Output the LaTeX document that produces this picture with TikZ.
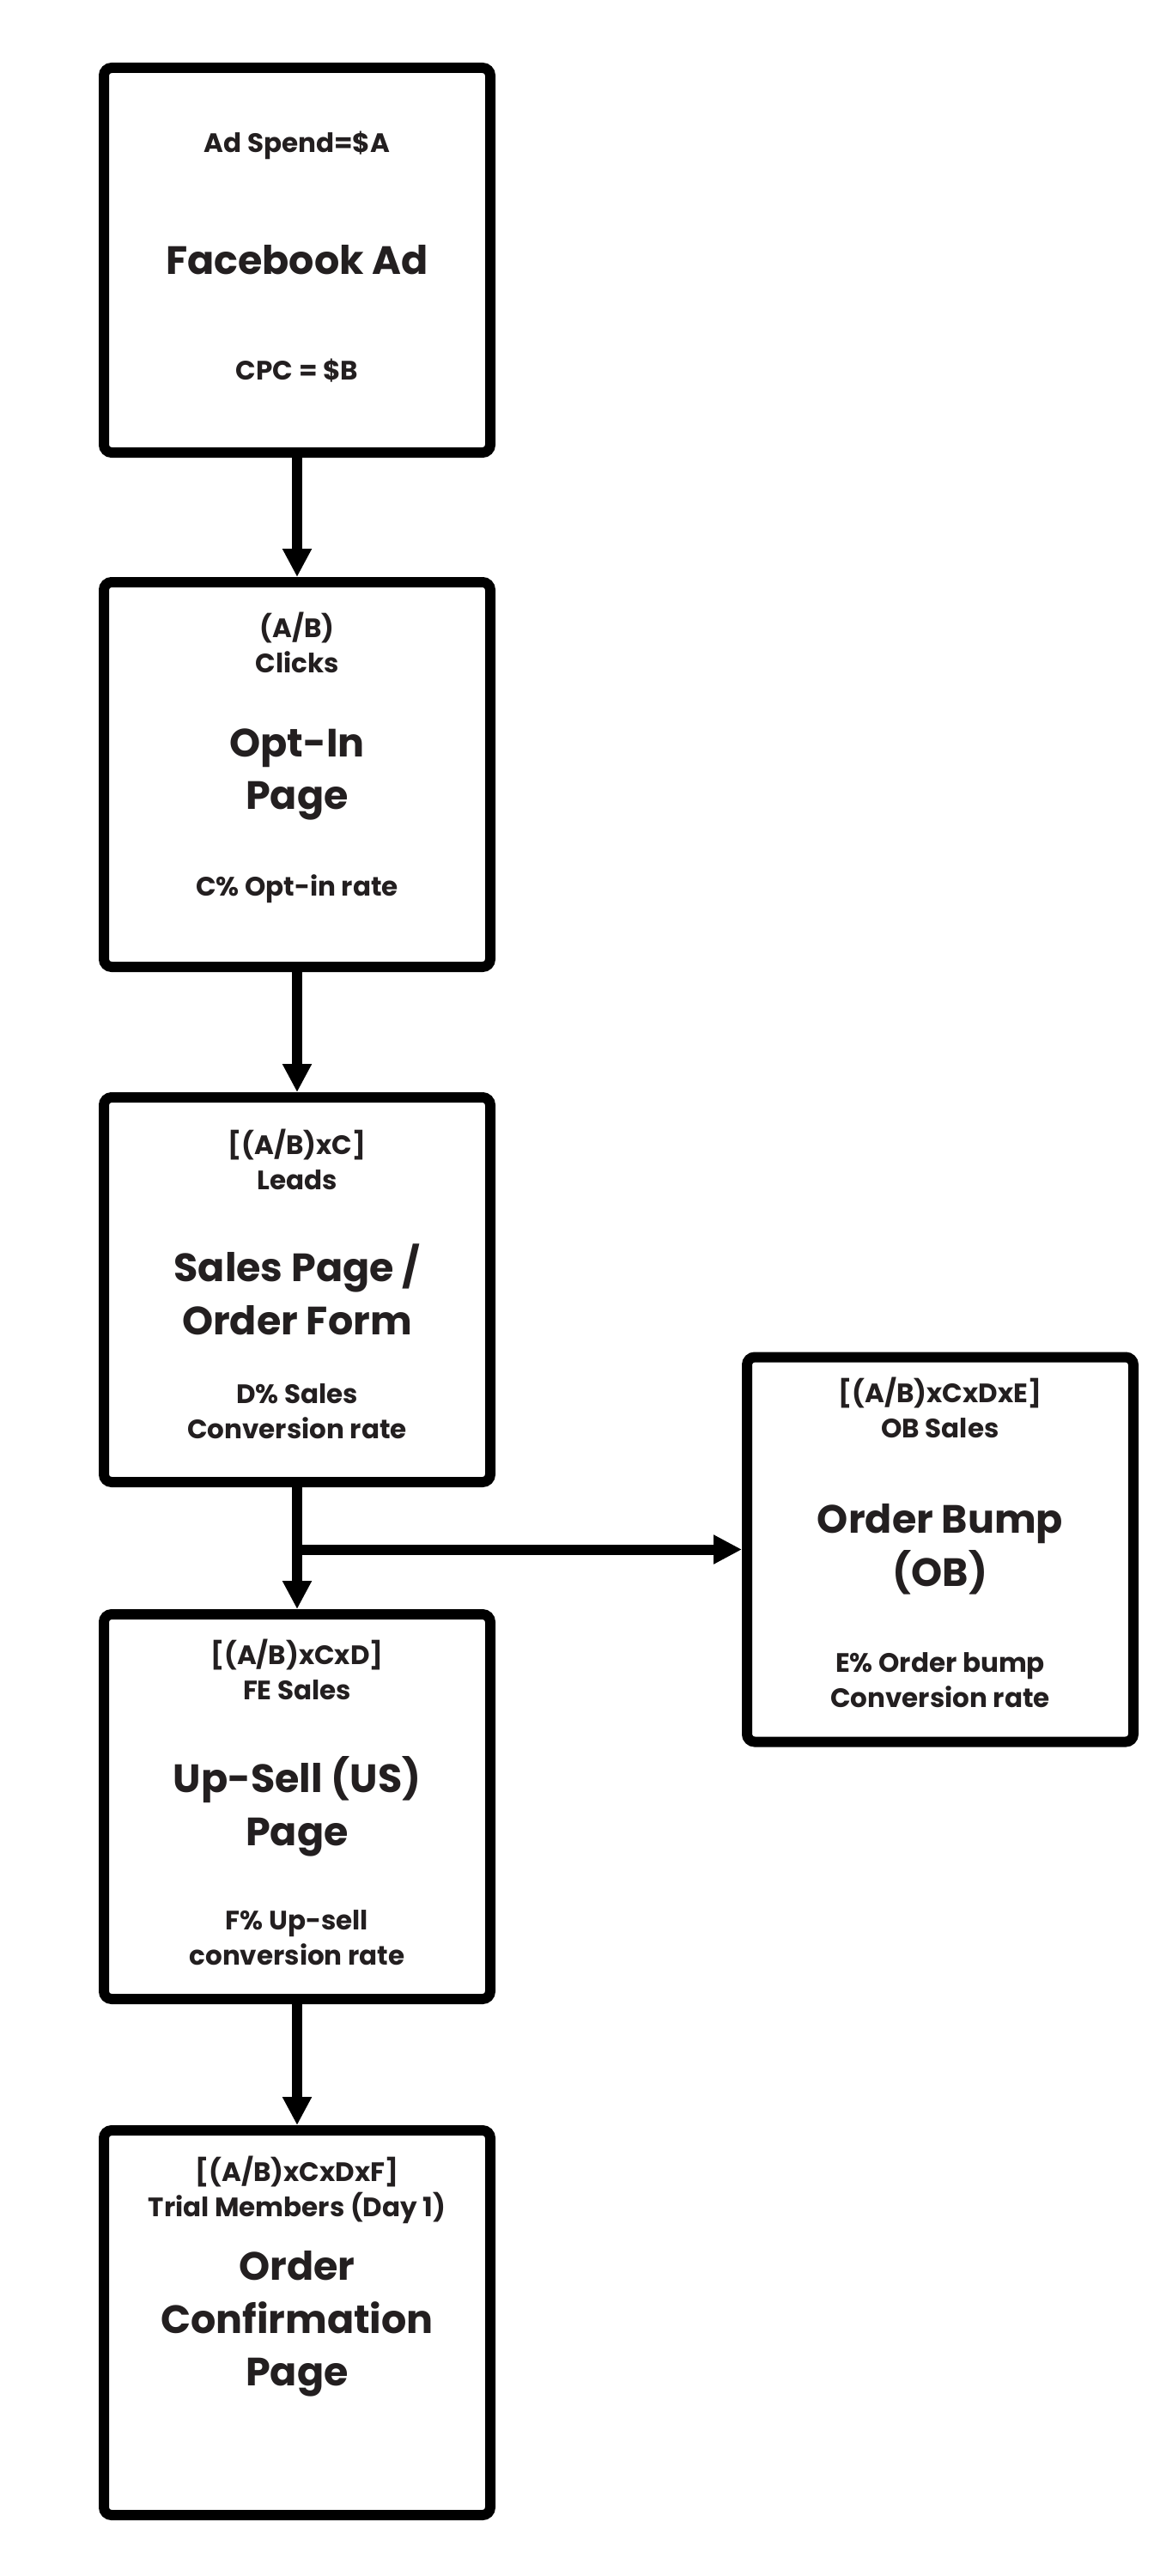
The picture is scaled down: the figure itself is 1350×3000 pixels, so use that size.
\documentclass[tikz,border=0pt]{standalone}
\usepackage{fontspec}
\setmainfont{Poppins}
\usetikzlibrary{arrows.meta}
\definecolor{inkdark}{RGB}{35,31,32}

\begin{document}
\begin{tikzpicture}[x=1pt,y=1pt,
    stage/.style={draw=black,line width=12pt,rounded corners=9pt,minimum width=450pt,minimum height=448pt,inner sep=0pt,align=center,text=inkdark,font=\fontsize{46}{61.5}\selectfont\bfseries},
    note/.style={anchor=base,align=center,inner sep=0pt,text=inkdark,font=\fontsize{31}{41}\selectfont\bfseries},
    flow/.style={line width=12pt,-{Triangle[length=33pt,width=32pt]}}]
            \path[fill=white] (0,0) rectangle (1350,-3000);
            \useasboundingbox (0,0) rectangle (1350,-3000);

            \node[stage] (fbad) at (346,-303) {Facebook Ad};
            \node[stage] (optin) at (346,-902) {Opt-In\\Page};
            \node[stage] (salespage) at (346,-1502) {Sales Page /\\Order Form};
            \node[stage] (upsell) at (346,-2104) {Up-Sell (US)\\Page};
            \node[stage] (confirm) at (346,-2705) {\raisebox{9pt}{\begin{tabular}{@{}c@{}}Order\\Confirmation\\Page\end{tabular}}};
            \node[stage] (obbump) at (1095,-1804.5) {Order Bump\\(OB)};

            \node[note] (fbspend) at (346,-177) {Ad Spend=\$A};
            \node[note] (fbcpc) at (346,-442) {CPC = \$B};
            \node[note] (optclicks) at (346,-783) {(A/B)\\Clicks};
            \node[note] (optrate) at (346,-1043) {C\% Opt-in rate};
            \node[note] (salesleads) at (346,-1385) {[(A/B)xC]\\Leads};
            \node[note] (salesrate) at (346,-1675) {D\% Sales\\Conversion rate};
            \node[note] (upfe) at (346,-1979) {[(A/B)xCxD]\\FE Sales};
            \node[note] (uprate) at (346,-2288) {F\% Up-sell\\conversion rate};
            \node[note] (confmembers) at (346,-2581) {[(A/B)xCxDxF]\\Trial Members (Day 1)};
            \node[note] (obsales) at (1095,-1674) {[(A/B)xCxDxE]\\OB Sales};
            \node[note] (obrate) at (1095,-1988) {E\% Order bump\\Conversion rate};

            \draw[flow] (fbad) -- (optin);
            \draw[flow] (optin) -- (salespage);
            \draw[flow] (salespage) -- (upsell);
            \draw[flow] (upsell) -- (confirm);
            \coordinate (split) at (salespage |- obbump);
            \draw[flow] (split) -- (obbump);
        \end{tikzpicture}
\end{document}
